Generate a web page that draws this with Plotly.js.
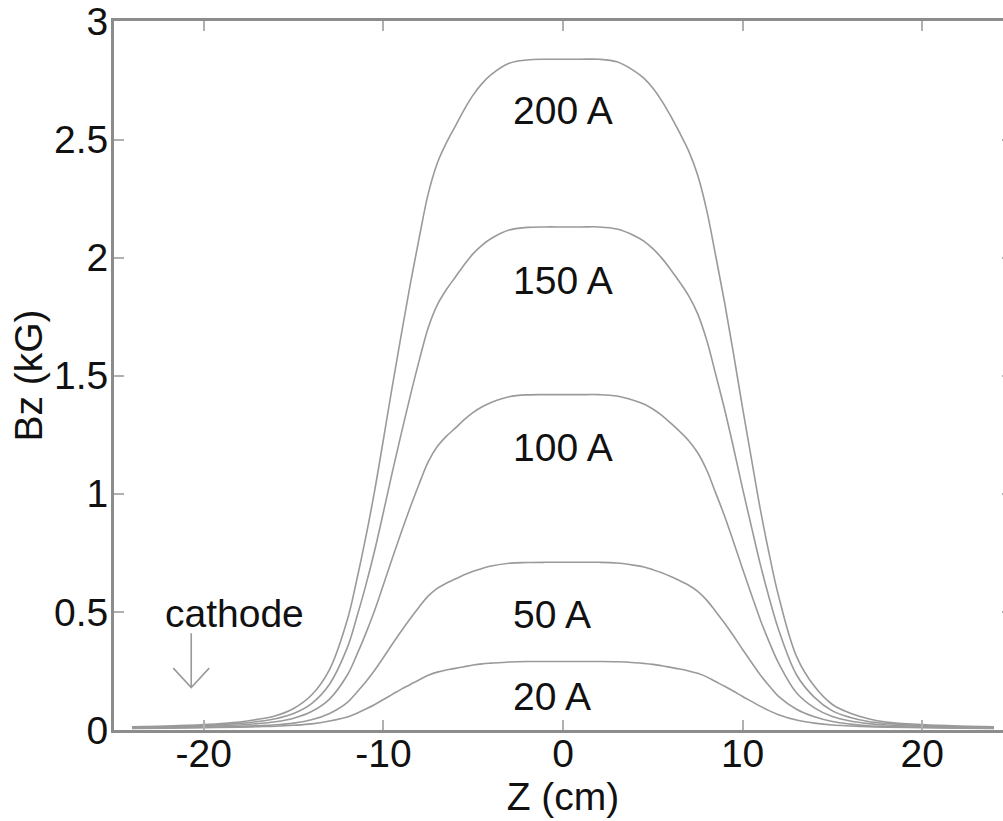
<!DOCTYPE html>
<html>
<head>
<meta charset="utf-8">
<script src="https://cdn.plot.ly/plotly-3.0.1.min.js"></script>
<style>
  html, body { margin: 0; padding: 0; overflow: hidden; background: #fff; }
  #chart { width: 1012px; height: 821px; }
</style>
</head>
<body>
<div id="chart"></div>
<script>
// Axial magnetic field Bz along the tube axis for several coil currents
const zCm = [-24, -22, -20, -18, -17, -16, -15, -14, -13,
             -12, -11.5, -11, -10.5, -10, -9.5, -9, -8.5, -8, -7.5, -7, -6.5, -6, -5.5, -5, -4.5, -4,
             -3, -2, -1, 0, 1, 2, 3,
             4, 4.5, 5, 5.5, 6, 6.5, 7, 7.5, 8, 8.5, 9, 9.5, 10, 10.5, 11, 11.5, 12,
             13, 14, 15, 16, 17, 18, 20, 22, 24];

const bz200 = [0.014, 0.017, 0.023, 0.034, 0.045, 0.060, 0.091, 0.148, 0.256,
               0.469, 0.630, 0.809, 1.008, 1.230, 1.457, 1.676, 1.889, 2.087, 2.272, 2.400, 2.485, 2.556, 2.627, 2.689, 2.738, 2.775,
               2.823, 2.837, 2.840, 2.840, 2.840, 2.840, 2.829,
               2.789, 2.760, 2.718, 2.664, 2.599, 2.528, 2.451, 2.349, 2.201, 2.008, 1.809, 1.590, 1.363, 1.145, 0.929, 0.738, 0.568,
               0.312, 0.185, 0.108, 0.071, 0.048, 0.034, 0.023, 0.017, 0.014];
const bz150 = [0.012, 0.015, 0.019, 0.028, 0.036, 0.048, 0.070, 0.112, 0.194,
               0.351, 0.473, 0.607, 0.756, 0.922, 1.093, 1.257, 1.416, 1.566, 1.704, 1.800, 1.864, 1.917, 1.970, 2.017, 2.053, 2.081,
               2.117, 2.128, 2.130, 2.130, 2.130, 2.130, 2.121,
               2.092, 2.070, 2.038, 1.998, 1.949, 1.896, 1.838, 1.762, 1.651, 1.506, 1.357, 1.193, 1.022, 0.858, 0.697, 0.554, 0.426,
               0.234, 0.138, 0.081, 0.053, 0.036, 0.028, 0.019, 0.015, 0.012];
const bz100 = [0.010, 0.012, 0.015, 0.021, 0.027, 0.035, 0.050, 0.078, 0.131,
               0.234, 0.315, 0.405, 0.504, 0.615, 0.728, 0.838, 0.944, 1.044, 1.136, 1.200, 1.243, 1.278, 1.314, 1.345, 1.369, 1.387,
               1.411, 1.419, 1.420, 1.420, 1.420, 1.420, 1.414,
               1.394, 1.380, 1.359, 1.332, 1.299, 1.264, 1.225, 1.174, 1.101, 1.004, 0.905, 0.795, 0.682, 0.572, 0.464, 0.369, 0.284,
               0.158, 0.094, 0.057, 0.038, 0.027, 0.021, 0.015, 0.012, 0.010];
const bz50  = [0.008, 0.010, 0.012, 0.015, 0.018, 0.022, 0.029, 0.043, 0.070,
               0.117, 0.158, 0.202, 0.252, 0.307, 0.364, 0.419, 0.472, 0.522, 0.568, 0.600, 0.621, 0.639, 0.657, 0.672, 0.684, 0.694,
               0.706, 0.709, 0.710, 0.710, 0.710, 0.710, 0.707,
               0.697, 0.690, 0.679, 0.666, 0.650, 0.632, 0.613, 0.587, 0.550, 0.502, 0.452, 0.398, 0.341, 0.286, 0.232, 0.185, 0.142,
               0.088, 0.056, 0.036, 0.025, 0.018, 0.015, 0.012, 0.010, 0.008];
const bz20  = [0.007, 0.008, 0.010, 0.012, 0.014, 0.016, 0.020, 0.026, 0.038,
               0.055, 0.070, 0.088, 0.107, 0.129, 0.151, 0.173, 0.193, 0.213, 0.232, 0.245, 0.254, 0.261, 0.268, 0.275, 0.280, 0.283,
               0.288, 0.290, 0.290, 0.290, 0.290, 0.290, 0.289,
               0.285, 0.282, 0.278, 0.272, 0.265, 0.258, 0.250, 0.240, 0.225, 0.205, 0.185, 0.164, 0.142, 0.121, 0.100, 0.081, 0.065,
               0.042, 0.029, 0.021, 0.017, 0.014, 0.012, 0.010, 0.008, 0.007];

const currentLabels = ['200 A', '150 A', '100 A', '50 A', '20 A'];
const seriesList = [bz200, bz150, bz100, bz50, bz20];

const xTicks = [-20, -10, 0, 10, 20];
const yTicks = [0, 0.5, 1, 1.5, 2, 2.5, 3];
const yTickText = ['0', '0.5', '1', '1.5', '2', '2.5', '3'];

// caption placement (z, Bz) for each current
const labelZ = -2.9;
const labelBz = [2.624, 1.905, 1.198, 0.487, 0.14];

const FONT = 'Liberation Sans, Arial, Helvetica, sans-serif';
const lineColor = '#9a9a9a';
const axisColor = '#8c8c8c';
const textColor = '#111';

const traces = seriesList.map((ys, i) => ({
  x: zCm,
  y: ys,
  type: 'scatter',
  mode: 'lines',
  name: currentLabels[i],
  line: { color: lineColor, width: 1.6, shape: 'spline', smoothing: 1 },
  hoverinfo: 'x+y+name'
}));

const annotations = currentLabels.map((t, i) => ({
  x: labelZ, y: labelBz[i], xref: 'x', yref: 'y',
  text: t, showarrow: false, xanchor: 'left', yanchor: 'middle',
  font: { family: FONT, size: 39, color: textColor }
}));

annotations.push({
  x: -18.3, y: 0.495, xref: 'x', yref: 'y',
  text: 'cathode', showarrow: false, xanchor: 'center', yanchor: 'middle',
  font: { family: FONT, size: 39, color: textColor }
});

// open arrow pointing down toward the cathode position
const arrowShape = {
  type: 'path', xref: 'x', yref: 'y',
  path: 'M -20.7,0.41 L -20.7,0.18 M -21.7,0.262 L -20.7,0.18 L -19.7,0.262',
  line: { color: '#9a9a9a', width: 1.6 }
};

const layout = {
  width: 1012,
  height: 821,
  margin: { l: 114, r: 0, t: 21, b: 91 },
  paper_bgcolor: '#ffffff',
  plot_bgcolor: '#ffffff',
  showlegend: false,
  font: { family: FONT, size: 39, color: textColor },
  xaxis: {
    range: [-25, 25],
    tickvals: xTicks,
    ticktext: xTicks.map(String),
    ticks: 'inside', ticklen: 10, tickwidth: 2, tickcolor: '#b0b0b0',
    ticklabelstandoff: -13,
    showline: true, linecolor: axisColor, linewidth: 3, mirror: 'allticks',
    showgrid: false, zeroline: false,
    tickfont: { family: FONT, size: 39, color: textColor },
    title: { text: 'Z (cm)', font: { family: FONT, size: 39, color: textColor }, standoff: 0 }
  },
  yaxis: {
    range: [0, 3.002],
    tickvals: yTicks,
    ticktext: yTickText,
    ticks: 'inside', ticklen: 10, tickwidth: 2, tickcolor: '#b0b0b0',
    ticklabelstandoff: -5,
    showline: true, linecolor: axisColor, linewidth: 3, mirror: 'allticks',
    showgrid: false, zeroline: false,
    tickfont: { family: FONT, size: 39, color: textColor },
    title: { text: 'Bz (kG)', font: { family: FONT, size: 39, color: textColor }, standoff: 0 }
  },
  annotations: annotations,
  shapes: [arrowShape]
};

Plotly.newPlot('chart', traces, layout, { displayModeBar: false, staticPlot: true });
</script>
</body>
</html>
